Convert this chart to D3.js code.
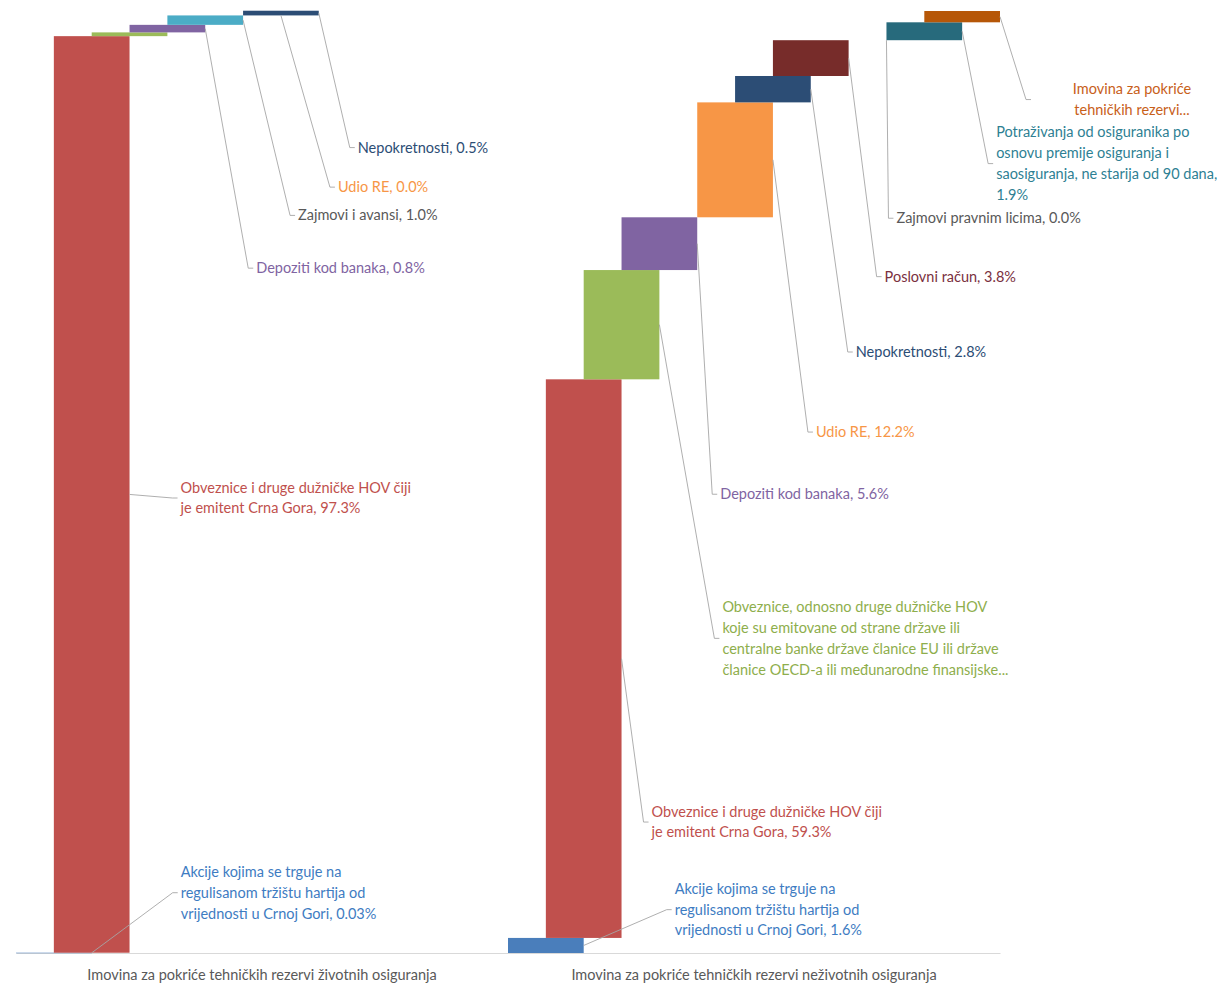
<!DOCTYPE html>
<html>
<head>
<meta charset="utf-8">
<script src="https://cdn.jsdelivr.net/npm/d3@7"></script>
<style>
  html, body { margin: 0; padding: 0; background: #ffffff; }
  svg { display: block; }
  text { font-family: Lato, "Noto Sans", sans-serif; }
</style>
</head>
<body>
<svg id="chart" width="1227" height="985"></svg>
<script>
// ---------------- DATA ----------------
const categories = [
  "Imovina za pokriće tehničkih rezervi životnih osiguranja",
  "Imovina za pokriće tehničkih rezervi neživotnih osiguranja"
];

const seriesNames = [
  "Akcije kojima se trguje na regulisanom tržištu hartija od vrijednosti u Crnoj Gori",
  "Obveznice i druge dužničke HOV čiji je emitent Crna Gora",
  "Obveznice, odnosno druge dužničke HOV koje su emitovane od strane države ili centralne banke države članice EU ili države članice OECD-a ili međunarodne finansijske institucije",
  "Depoziti kod banaka",
  "Zajmovi i avansi",
  "Udio RE",
  "Nepokretnosti",
  "Poslovni račun",
  "Zajmovi pravnim licima",
  "Ostalo",
  "Potraživanja od osiguranika po osnovu premije osiguranja i saosiguranja, ne starija od 90 dana",
  "Imovina za pokriće tehničkih rezervi..."
];

// share in % (life / non-life)
const lifeValues    = [0.03, 97.3, 0.4, 0.8, 1.0, 0.0, 0.5, 0, 0, 0, 0, 0];
const nonLifeValues = [1.6, 59.3, 11.6, 5.6, 0, 12.2, 2.8, 3.8, 0.0, 0, 1.9, 1.2];

const seriesColors = ["#4A7EBB", "#C0504D", "#9BBB59", "#8064A2", "#4BACC6", "#F79646",
                      "#2C4D75", "#772C2A", "#5F7530", "#4D3B62", "#276A7C", "#B65708"];
const labelColors  = ["#3E7CC2", "#C0504D", "#8EAE4C", "#8064A2", "#595959", "#F79646",
                      "#2C4D75", "#7A3040", "#595959", "#595959", "#2E7F93", "#C8601A"];

// label texts (wrapped as in the original), null = no label
const lifeLabels = [
  ["Akcije kojima se trguje na", "regulisanom tržištu hartija od", "vrijednosti u Crnoj Gori, 0.03%"],
  ["Obveznice i druge dužničke HOV čiji", "je emitent Crna Gora, 97.3%"],
  null,
  ["Depoziti kod banaka, 0.8%"],
  ["Zajmovi i avansi, 1.0%"],
  ["Udio RE, 0.0%"],
  ["Nepokretnosti, 0.5%"],
  null, null, null, null, null
];
const nonLifeLabels = [
  ["Akcije kojima se trguje na", "regulisanom tržištu hartija od", "vrijednosti u Crnoj Gori, 1.6%"],
  ["Obveznice i druge dužničke HOV čiji", "je emitent Crna Gora, 59.3%"],
  ["Obveznice, odnosno druge dužničke HOV", "koje su emitovane od strane države ili",
   "centralne banke države članice EU ili države", "članice OECD-a ili međunarodne finansijske..."],
  ["Depoziti kod banaka, 5.6%"],
  null,
  ["Udio RE, 12.2%"],
  ["Nepokretnosti, 2.8%"],
  ["Poslovni račun, 3.8%"],
  ["Zajmovi pravnim licima, 0.0%"],
  null,
  ["Potraživanja od osiguranika po", "osnovu premije osiguranja i", "saosiguranja, ne starija od 90 dana,", "1.9%"],
  ["Imovina za pokriće", "tehničkih rezervi..."]
];

// ---------------- LAYOUT (label placement: px offset from bar edge, level in % on y scale) ----------------
const lifeLabelPlace = [
  {dx: 89, at: 6.4}, {dx: 51, at: 48.3}, null, {dx: 51, at: 72.7}, {dx: 55, at: 78.3},
  {dx: 57, at: 81.3}, {dx: 39, at: 85.5}, null, null, null, null, null
];
const nonLifePlace = [
  {dx: 91, at: 4.6}, {dx: 30, at: 13.9}, {dx: 63, at: 33.4}, {dx: 23, at: 48.7}, null,
  {dx: 43, at: 55.3}, {dx: 45, at: 63.8}, {dx: 36, at: 71.8}, {dx: 10, at: 78.0}, null,
  {dx: 34, at: 83.8}, {dx: 34, at: 90.6, center: 98}
];

// ---------------- CHART ----------------
const svg = d3.select("#chart");
const plot = {left: 16, right: 1000, top: 11, bottom: 953};
const fontSize = "14.5px";

const y = d3.scaleLinear().domain([0, 100]).range([plot.bottom, plot.top]);
const xCat = d3.scaleBand().domain(categories).range([plot.left, plot.right]).padding(0);
const nS = seriesNames.length;
const xSlot = d3.scaleLinear().domain([0, nS + 1]).range([0, xCat.bandwidth()]);
const barW = xSlot(2) - xSlot(0);

const valuesByCat = [lifeValues, nonLifeValues];
const labelsByCat = [lifeLabels, nonLifeLabels];
const placeByCat = [lifeLabelPlace, nonLifePlace];

// build waterfall records
const records = [];
categories.forEach((cat, ci) => {
  let base = 0;
  valuesByCat[ci].forEach((v, si) => {
    records.push({cat, ci, si, v, base, top: base + v});
    base += v;
  });
});

// category axis
const xAxis = d3.axisBottom(xCat).tickSize(0).tickPadding(17);
const axisG = svg.append("g").attr("transform", `translate(0,${plot.bottom})`).call(xAxis);
axisG.select(".domain").attr("stroke", "#D9D9D9").attr("stroke-width", 1.2);
axisG.selectAll(".tick text")
  .attr("fill", "#595959")
  .style("font-family", "Lato, 'Noto Sans', sans-serif")
  .style("font-size", fontSize);

// bars
svg.append("g").selectAll("rect")
  .data(records.filter(d => d.v > 0))
  .join("rect")
  .attr("x", d => xCat(d.cat) + xSlot(d.si))
  .attr("width", barW)
  .attr("y", d => y(d.top))
  .attr("height", d => Math.max(0.5, y(d.base) - y(d.top)))
  .attr("fill", d => seriesColors[d.si]);

// labels + leader lines
const lh = 20.8;
const lblG = svg.append("g");
records.forEach(d => {
  const lines = labelsByCat[d.ci][d.si];
  const pl = placeByCat[d.ci][d.si];
  if (!lines || !pl) return;
  const barRight = xCat(d.cat) + xSlot(d.si) + barW;
  const anchorY = (y(d.base) + y(d.top)) / 2;
  const lx = barRight + pl.dx;
  const cy = y(pl.at);
  lblG.append("path")
    .attr("d", `M${barRight},${anchorY} L${lx - 8},${cy} L${lx - 3},${cy}`)
    .attr("fill", "none")
    .attr("stroke", "#A6A6A6")
    .attr("stroke-width", 0.9);
  const t = lblG.append("text")
    .attr("fill", labelColors[d.si])
    .style("font-size", fontSize)
    .attr("text-anchor", pl.center ? "middle" : "start");
  const tx = pl.center ? lx + pl.center : lx;
  const y0 = cy - (lines.length - 1) / 2 * lh + 5;
  lines.forEach((ln, k) => {
    t.append("tspan").attr("x", tx).attr("y", y0 + k * lh).text(ln);
  });
});
</script>
</body>
</html>
